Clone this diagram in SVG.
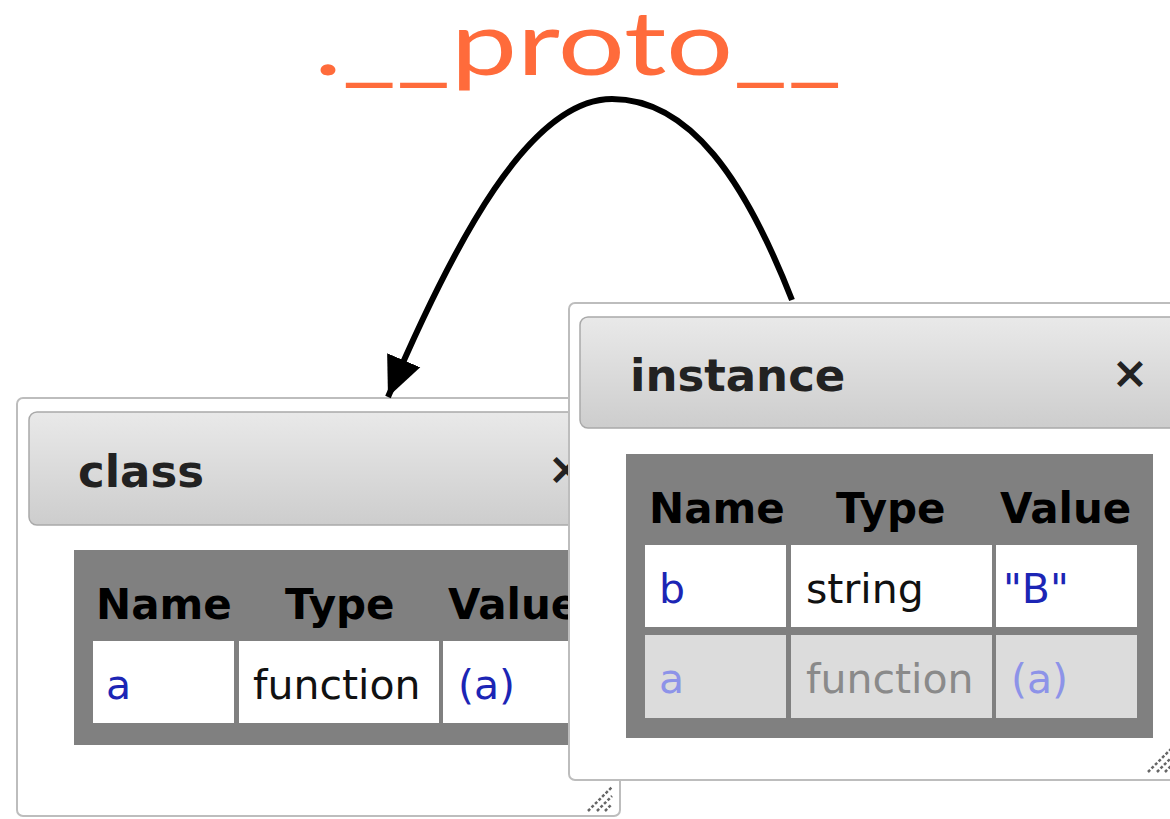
<svg xmlns="http://www.w3.org/2000/svg" width="1170" height="819" viewBox="0 0 1170 819">
<defs>
<linearGradient id="hdr" x1="0" y1="0" x2="0" y2="1">
<stop offset="0" stop-color="#e9e9e9"/>
<stop offset="1" stop-color="#cdcdcd"/>
</linearGradient>
<marker id="arrow" markerUnits="userSpaceOnUse" markerWidth="44" markerHeight="44" viewBox="0 0 44 44" refX="40" refY="22" orient="auto">
<path d="M0,4 L40,22 L0,40 z" fill="#000"/>
</marker>
</defs>
<style>
.win{fill:#fff;stroke:#bdbdbd;stroke-width:2}
.hdr{fill:url(#hdr);stroke:#a9a9a9;stroke-width:1.5}
.ttl{font-family:"DejaVu Sans","Verdana",sans-serif;font-weight:bold;font-size:45px;fill:#222}
.x{font-family:"DejaVu Sans",sans-serif;font-weight:bold;font-size:44px;fill:#222}
.tbl{fill:#808080}
.cell{fill:#fff}
.cellb{fill:#dcdcdc}
.th{font-family:"DejaVu Sans",sans-serif;font-weight:bold;font-size:42px;fill:#000}
.td{font-family:"DejaVu Sans",sans-serif;font-size:41px;fill:#111}
.blue{fill:#1c25b5}
.fblue{fill:#8d93e8}
.fgray{fill:#8a8a8a}
.grip{stroke:#666;stroke-width:2.5;stroke-dasharray:3 2}
.conn{fill:none;stroke:#000;stroke-width:6}
</style>

<g id="title">
<text x="314" y="75" textLength="528" lengthAdjust="spacingAndGlyphs" font-family="Lato, 'Open Sans', sans-serif" font-size="90" fill="#ff6b3b">.__proto__</text>
</g>

<g id="class-window">
<rect class="win" x="17" y="398" width="603" height="418" rx="6"/>
<rect class="hdr" x="29" y="412" width="585" height="113" rx="8"/>
<text class="ttl" x="78" y="487">class</text>
<text class="x" x="566" y="484" text-anchor="middle">×</text>
<rect class="tbl" x="74" y="550" width="526" height="195"/>
<text class="th" x="96" y="619">Name</text>
<text class="th" x="285" y="619">Type</text>
<text class="th" x="448" y="619">Value</text>
<rect class="cell" x="93" y="641" width="141" height="82"/>
<rect class="cell" x="239" y="641" width="200" height="82"/>
<rect class="cell" x="443" y="641" width="141" height="82"/>
<text class="td blue" x="106" y="699">a</text>
<text class="td" x="253" y="699">function</text>
<text class="td blue" x="458" y="699">(a)</text>
<g class="grip">
<line x1="588" y1="811" x2="612" y2="787"/>
<line x1="597" y1="811" x2="612" y2="796"/>
<line x1="605" y1="811" x2="612" y2="804"/>
</g>
</g>

<g id="instance-window">
<rect class="win" x="569" y="303" width="640" height="477" rx="6"/>
<rect class="hdr" x="580" y="317" width="620" height="111" rx="8"/>
<text class="ttl" x="630" y="391">instance</text>
<text class="x" x="1130" y="388" text-anchor="middle">×</text>
<rect class="tbl" x="626" y="454" width="527" height="284"/>
<text class="th" x="649" y="523">Name</text>
<text class="th" x="836" y="523">Type</text>
<text class="th" x="1000" y="523">Value</text>
<rect class="cell" x="645" y="545" width="141" height="82"/>
<rect class="cell" x="791" y="545" width="201" height="82"/>
<rect class="cell" x="996" y="545" width="141" height="82"/>
<rect class="cellb" x="645" y="635" width="141" height="83"/>
<rect class="cellb" x="791" y="635" width="201" height="83"/>
<rect class="cellb" x="996" y="635" width="141" height="83"/>
<text class="td blue" x="659" y="603">b</text>
<text class="td" x="806" y="603">string</text>
<text class="td blue" x="1003" y="603">"B"</text>
<text class="td fblue" x="659" y="693">a</text>
<text class="td fgray" x="806" y="693">function</text>
<text class="td fblue" x="1011" y="693">(a)</text>
<g class="grip">
<line x1="1148" y1="772" x2="1172" y2="748"/>
<line x1="1157" y1="772" x2="1172" y2="757"/>
<line x1="1165" y1="772" x2="1172" y2="765"/>
</g>
</g>

<g id="connectors">
<path class="conn" d="M 792 300 C 745 180, 690 99, 612 99 C 530 99, 455 240, 388 397" marker-end="url(#arrow)"/>
</g>
</svg>
